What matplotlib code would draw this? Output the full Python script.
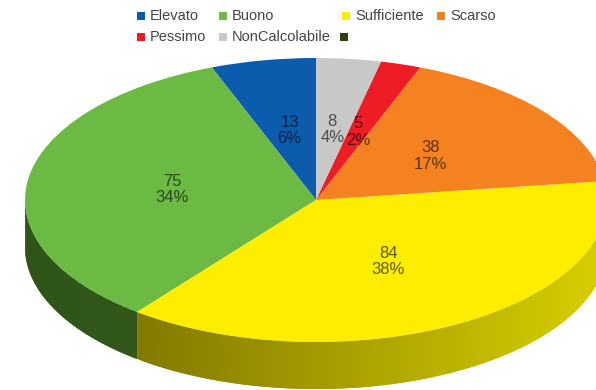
import numpy as np
import matplotlib
matplotlib.use("Agg")
import matplotlib.pyplot as plt
from matplotlib.colors import to_rgb

plt.rcParams['font.family'] = ['Liberation Sans', 'DejaVu Sans']

categories = ['Elevato', 'Buono', 'Sufficiente', 'Scarso', 'Pessimo', 'NonCalcolabile']
counts = [13, 75, 84, 38, 5, 8]
colors = ['#0b5cad', '#6cb943', '#fdee00', '#f58220', '#ee1c25', '#c8c8c8']
extra_swatch = '#2c3f0c'

# pixel geometry of the flattened disc
W, H = 596, 390
CX, CY = 316, 200
RX, RY = 291, 142
DEPTH = 47 / RY

# side wall shade at the left and right end of the visible rim
side_left = {'Buono': '#2f5418', 'Sufficiente': '#6e6500', 'Scarso': '#a85a10'}
side_right = {'Buono': '#3a6420', 'Sufficiente': '#d8cf00', 'Scarso': '#a85a10'}


def draw_side(ax):
    total = sum(counts)
    start = 90.0
    for name, val in zip(categories, counts):
        end = start + val / total * 360
        # only the front half of the rim can be seen
        a0, a1 = max(start, 180), min(end, 360)
        if a1 > a0 and name in side_left:
            edges = np.linspace(a0, a1, int(a1 - a0) + 2)
            c0, c1 = np.array(to_rgb(side_left[name])), np.array(to_rgb(side_right[name]))
            for t0, t1 in zip(edges[:-1], edges[1:]):
                f = (np.cos(np.radians((t0 + t1) / 2)) + 1) / 2
                tt = np.radians(np.linspace(t0, min(t1 + 1.0, a1), 4))
                xs = np.cos(tt)
                ys = np.sin(tt)
                ax.fill(np.r_[xs, xs[::-1]], np.r_[ys, ys[::-1] - DEPTH],
                        color=c0 + (c1 - c0) * f, lw=0, zorder=1)
        start = end


def draw_legend(fig):
    rows = [
        (150, 16, 'Elevato', colors[0]), (232, 16, 'Buono', colors[1]),
        (355, 16, 'Sufficiente', colors[2]), (450, 16, 'Scarso', colors[3]),
        (150, 37, 'Pessimo', colors[4]), (232, 37, 'NonCalcolabile', colors[5]),
        (353, 37, '', extra_swatch),
    ]
    for x, y, label, col in rows:
        fig.add_artist(plt.Rectangle(((x - 13) / W, 1 - (y + 4) / H), 8 / W, 8 / H,
                                     transform=fig.transFigure, fc=col, ec='none'))
        fig.text(x / W, 1 - y / H, label, ha='left', va='center', fontsize=10.5, color='#444444')


def fmt_label(pct):
    n = int(round(pct * sum(counts) / 100))
    return f"{n}\n{pct:.0f}%"


def main():
    fig = plt.figure(figsize=(W / 100, H / 100), dpi=100)
    ax = fig.add_axes([0, 0, 1, 1])

    wedges, _, pct_texts = ax.pie(counts, colors=colors, startangle=90, radius=1,
                                  autopct=fmt_label, pctdistance=0.5,
                                  wedgeprops=dict(linewidth=0, zorder=2))
    for t in pct_texts:
        t.set_fontsize(12)
        t.set_color('black')
        t.set_alpha(0.62)
        t.set_zorder(3)
        t.set_linespacing(1.1)

    draw_side(ax)

    # stretch the unit disc into pixel-sized ellipse
    ax.set_aspect('auto')
    ax.set_xlim(-CX / RX, (W - CX) / RX)
    ax.set_ylim((CY - H) / RY, CY / RY)
    ax.axis('off')

    draw_legend(fig)
    fig.savefig('out.png', dpi=100)
    plt.close(fig)


if __name__ == "__main__":
    main()
